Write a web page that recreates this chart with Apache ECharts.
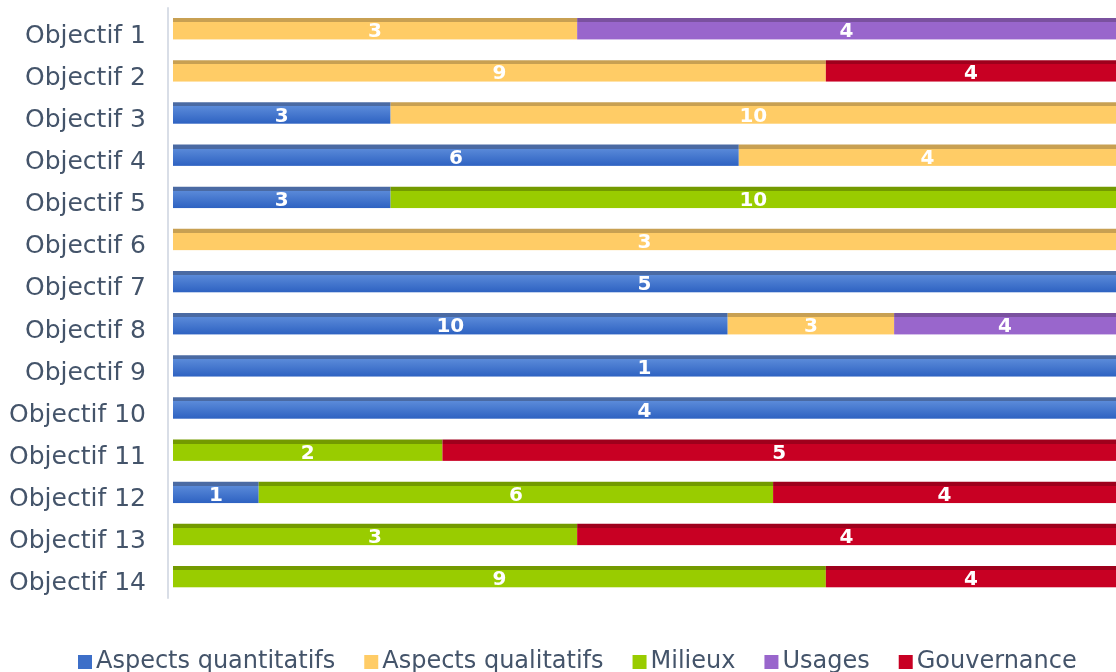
<!DOCTYPE html>
<html>
<head>
<meta charset="utf-8">
<script src="https://cdn.jsdelivr.net/npm/echarts@6/dist/echarts.min.js"></script>
<style>html,body{margin:0;padding:0;background:#fff}#c{width:1116px;height:672px}</style>
</head>
<body>
<div id="c"></div>
<script>
const categories = ["Objectif 1","Objectif 2","Objectif 3","Objectif 4","Objectif 5","Objectif 6","Objectif 7","Objectif 8","Objectif 9","Objectif 10","Objectif 11","Objectif 12","Objectif 13","Objectif 14"];
const seriesNames = ["Aspects quantitatifs","Aspects qualitatifs","Milieux","Usages","Gouvernance"];
const quantitatifs = [0,0,3,6,3,0,5,10,1,4,0,1,0,0];
const qualitatifs  = [3,9,10,4,0,3,0,3,0,0,0,0,0,0];
const milieux      = [0,0,0,0,10,0,0,0,0,0,2,6,3,9];
const usages       = [4,0,0,0,0,0,0,4,0,0,0,0,0,0];
const gouvernance  = [0,4,0,0,0,0,0,0,0,0,5,4,4,4];

const counts = [quantitatifs, qualitatifs, milieux, usages, gouvernance];
const faceColors = [["#5a8ad9","#2f63c2"],["#ffcc66","#ffcc66"],["#99cc00","#99cc00"],["#9966cc","#9966cc"],["#c80023","#c80023"]];
const topColors = ["#4a6aa3","#c8a052","#739a00","#7a519f","#9e001c"];
const legendColors = ["#3d6fc8","#ffcc66","#99cc00","#9966cc","#c80023"];

const totals = categories.map((_, i) => counts.reduce((s, a) => s + a[i], 0));
const strip = 4/22;

const series = counts.map((arr, k) => ({
  name: seriesNames[k],
  type: 'bar',
  stack: 'total',
  barWidth: 22,
  color: legendColors[k],
  itemStyle: {
    color: new echarts.graphic.LinearGradient(0,0,0,1,[
      {offset:0,color:topColors[k]},
      {offset:strip,color:topColors[k]},
      {offset:strip+0.001,color:faceColors[k][0]},
      {offset:0.95,color:faceColors[k][1]},
      {offset:1,color:'rgba(255,255,255,0.6)'}
    ])
  },
  label: {
    show: true,
    position: 'inside',
    offset: [0, 3],
    color: '#ffffff',
    fontFamily: 'DejaVu Sans',
    fontWeight: 'bold',
    fontSize: 20,
    formatter: p => p.data.raw
  },
  emphasis: {disabled: true},
  data: arr.map((v, i) => v > 0 ? {value: v / totals[i] * 100, raw: v} : {value: null, raw: 0})
}));

const chart = echarts.init(document.getElementById('c'), null, {renderer: 'canvas'});
chart.setOption({
  animation: false,
  backgroundColor: '#ffffff',
  grid: {left: 168, right: -5, top: 8, height: 590},
  xAxis: {
    type: 'value', min: -0.53, max: 100,
    show: false
  },
  yAxis: {
    type: 'category',
    data: categories,
    inverse: true,
    axisLine: {show: true, onZero: false, lineStyle: {color: '#d9dee7', width: 2}},
    axisTick: {show: false},
    axisLabel: {
      margin: 22,
      formatter: v => '{a|' + v + '}',
      rich: {
        a: {color: '#44546a', fontFamily: 'DejaVu Sans', fontSize: 25, lineHeight: 30, padding: [14, 0, 0, 0]}
      }
    },
    splitLine: {show: false}
  },
  legend: {
    bottom: -7,
    left: 73,
    icon: 'rect',
    itemWidth: 14,
    itemHeight: 14,
    itemGap: 29,
    textStyle: {color: '#44546a', fontFamily: 'DejaVu Sans', fontSize: 24, padding: [0,0,0,-1]},
    data: seriesNames.map((n, k) => ({name: n, itemStyle: {color: legendColors[k]}}))
  },
  series: series
});
</script>
</body>
</html>
